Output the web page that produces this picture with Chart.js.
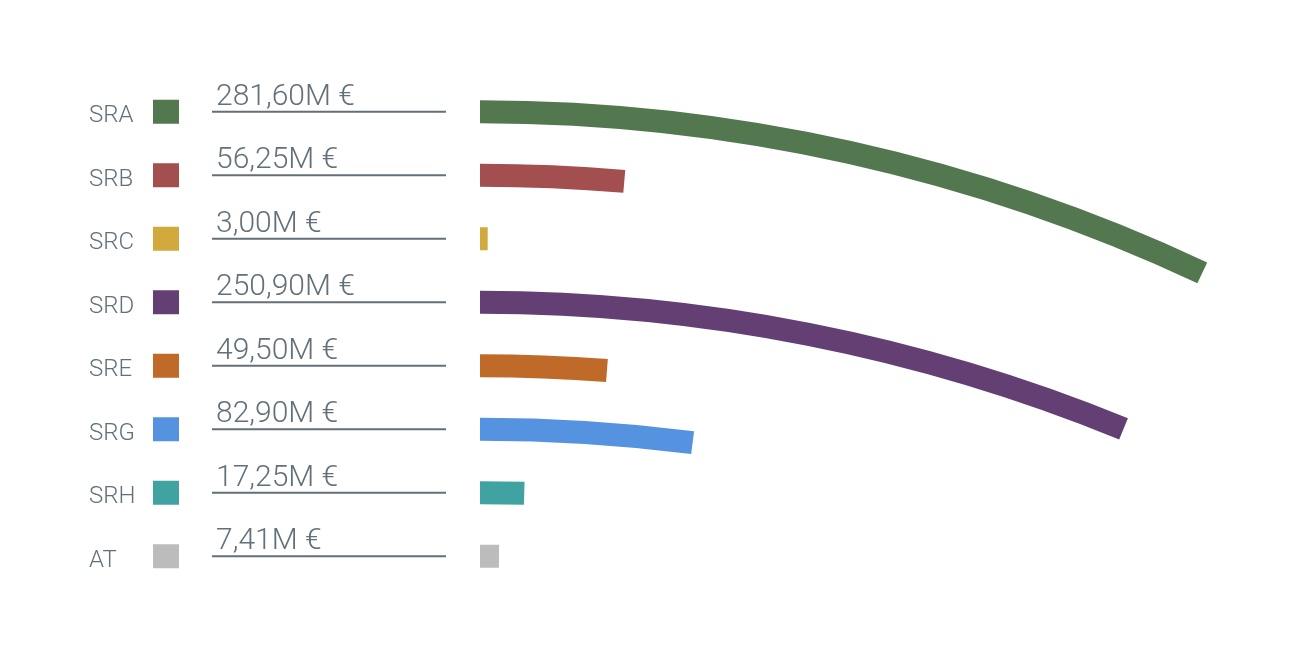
<!DOCTYPE html>
<html>
<head>
<meta charset="utf-8">
<script src="https://cdn.jsdelivr.net/npm/chart.js@4/dist/chart.umd.min.js"></script>
<style>
html,body{margin:0;padding:0;background:#fff;}
canvas{display:block;}
</style>
</head>
<body>
<canvas id="c" width="1293" height="666"></canvas>
<script>
const categories = ['SRA', 'SRB', 'SRC', 'SRD', 'SRE', 'SRG', 'SRH', 'AT'];
const values = [281.60, 56.25, 3.00, 250.90, 49.50, 82.90, 17.25, 7.41];
const colors = ['#537850', '#a34e4f', '#d2a93d', '#643f73', '#c06a2a', '#5592e0', '#40a3a2', '#bcbcbc'];
const valueLabels = values.map(v => v.toFixed(2).replace('.', ',') + 'M €');

const TEXT = '#617079';
const ARC_R = 1700;

const arcBars = {
  id: 'arcBars',
  beforeDatasetDraw() { return false; },
  afterDatasetsDraw(chart) {
    const ctx = chart.ctx;
    const meta = chart.getDatasetMeta(0);
    ctx.save();
    meta.data.forEach((bar, i) => {
      const p = bar.getProps(['x', 'y', 'base', 'height'], true);
      const dx = Math.min(p.x - p.base, ARC_R * 0.999);
      const ang = Math.asin(dx / ARC_R);
      ctx.beginPath();
      ctx.strokeStyle = colors[i];
      ctx.lineWidth = p.height;
      ctx.lineCap = 'butt';
      ctx.arc(p.base, p.y + ARC_R, ARC_R, -Math.PI / 2, -Math.PI / 2 + ang);
      ctx.stroke();
    });
    ctx.restore();
  },
  afterDraw(chart) {
    const ctx = chart.ctx;
    const ys = chart.scales.y;
    ctx.save();
    categories.forEach((cat, i) => {
      const y = ys.getPixelForValue(i);
      ctx.fillStyle = TEXT;
      ctx.textAlign = 'left';
      ctx.textBaseline = 'alphabetic';
      ctx.font = '300 24px Roboto, "Liberation Sans", sans-serif';
      ctx.fillText(cat, 89, y + 10.5);
      ctx.fillStyle = colors[i];
      ctx.fillRect(153, y - 12, 26, 24);
      ctx.fillStyle = TEXT;
      ctx.font = '300 30px Roboto, "Liberation Sans", sans-serif';
      ctx.fillText(valueLabels[i], 216, y - 7);
      ctx.strokeStyle = TEXT;
      ctx.lineWidth = 2;
      ctx.beginPath();
      ctx.moveTo(212, y);
      ctx.lineTo(446, y);
      ctx.stroke();
    });
    ctx.restore();
  }
};

new Chart(document.getElementById('c'), {
  type: 'bar',
  data: {
    labels: categories,
    datasets: [{
      data: values,
      backgroundColor: colors,
      barThickness: 23
    }]
  },
  options: {
    indexAxis: 'y',
    responsive: false,
    animation: false,
    layout: { padding: { left: 480, right: 43.5, top: 80, bottom: 78 } },
    scales: {
      x: { display: false, min: 0, max: 300 },
      y: { display: false }
    },
    plugins: { legend: { display: false }, tooltip: { enabled: false } }
  },
  plugins: [arcBars]
});
</script>
</body>
</html>
